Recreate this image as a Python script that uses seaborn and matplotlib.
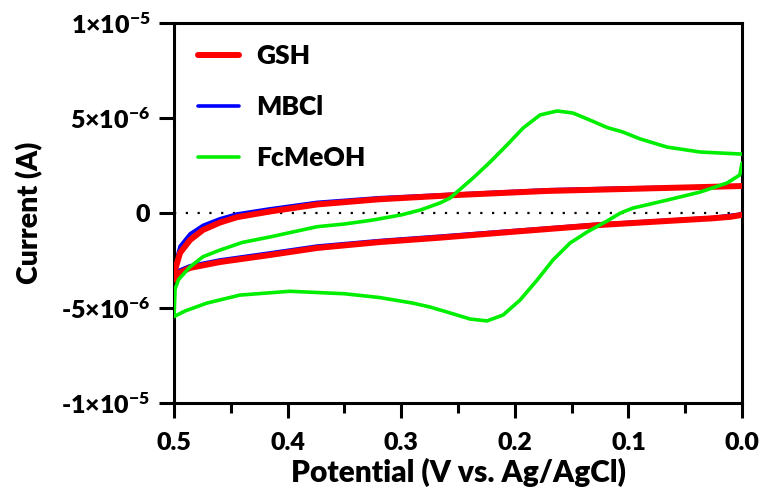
import numpy as np
import pandas as pd
import matplotlib
matplotlib.use('Agg')
import matplotlib.pyplot as plt
from matplotlib.ticker import MultipleLocator
import seaborn as sns

# potential (V) / current (uA), one list per branch
gsh_E_up = [0.5, 0.4991, 0.4947, 0.4859, 0.4745, 0.4595, 0.4445, 0.4155, 0.374, 0.32, 0.25, 0.172, 0.125, 0.0]
gsh_I_up = [-3.5, -3.0, -2.1, -1.42, -0.89, -0.5, -0.22, 0.08, 0.45, 0.72, 0.95, 1.16, 1.23, 1.42]
gsh_E_dn = [0.0, 0.01, 0.026, 0.066, 0.125, 0.2, 0.266, 0.319, 0.374, 0.4155, 0.4595, 0.486, 0.497, 0.5]
gsh_I_dn = [-0.1, -0.2, -0.28, -0.42, -0.63, -0.98, -1.3, -1.53, -1.84, -2.21, -2.58, -2.89, -3.2, -3.5]

mbcl_E_up = [0.5, 0.4991, 0.4947, 0.4859, 0.4745, 0.4595, 0.4445, 0.4155, 0.374, 0.32, 0.25, 0.172, 0.1, 0.0]
mbcl_I_up = [-3.3, -2.7, -1.75, -1.1, -0.65, -0.3, -0.05, 0.22, 0.56, 0.8, 1.0, 1.22, 1.32, 1.42]
mbcl_E_dn = [0.0, 0.026, 0.125, 0.266, 0.319, 0.374, 0.4155, 0.4595, 0.486, 0.497, 0.5]
mbcl_I_dn = [-0.05, -0.24, -0.58, -1.22, -1.45, -1.74, -2.1, -2.47, -2.78, -3.05, -3.3]

fc_E_dn = [0.0, 0.002, 0.0132, 0.037, 0.066, 0.096, 0.107, 0.1188, 0.1364, 0.1514, 0.1664, 0.1804,
           0.1954, 0.2104, 0.2245, 0.2394, 0.257, 0.2746, 0.29, 0.319, 0.35, 0.398, 0.442, 0.471, 0.49, 0.5]
fc_I_dn = [2.63, 2.0, 1.58, 1.1, 0.68, 0.26, 0.0, -0.42, -1.0, -1.58, -2.47, -3.53,
           -4.58, -5.37, -5.68, -5.58, -5.26, -4.95, -4.74, -4.45, -4.25, -4.12, -4.32, -4.74, -5.15, -5.45]
fc_E_up = [0.5, 0.4991, 0.496, 0.486, 0.4745, 0.4595, 0.44, 0.4155, 0.374, 0.35, 0.325, 0.3, 0.283,
           0.265, 0.257, 0.2368, 0.2218, 0.2069, 0.1928, 0.1778, 0.1628, 0.1488, 0.1338, 0.1188,
           0.1048, 0.0898, 0.066, 0.037, 0.0]
fc_I_up = [-5.45, -4.0, -3.5, -2.84, -2.3, -1.95, -1.55, -1.26, -0.72, -0.58, -0.37, -0.1, 0.16,
           0.55, 0.79, 1.84, 2.68, 3.58, 4.47, 5.16, 5.37, 5.26, 4.89, 4.5,
           4.26, 3.9, 3.47, 3.21, 3.1]

y_ticks = [-1e-5, -5e-6, 0, 5e-6, 1e-5]
y_labels = ['-1×10$^{-5}$', '-5×10$^{-6}$', '0', '5×10$^{-6}$', '1×10$^{-5}$']
x_ticks = [0.5, 0.4, 0.3, 0.2, 0.1, 0.0]
x_labels = ['0.5', '0.4', '0.3', '0.2', '0.1', '0.0']


def branches(E1, I1, E2, I2):
    return pd.DataFrame({'E': list(E1) + list(E2),
                         'I': np.array(list(I1) + list(I2)) * 1e-6,
                         'branch': ['a'] * len(E1) + ['b'] * len(E2)})


sns.set_style('white')
plt.rcParams['font.family'] = ['Lato', 'DejaVu Sans']
plt.rcParams['font.weight'] = 'heavy'
plt.rcParams['text.color'] = 'black'
plt.rcParams['axes.labelcolor'] = 'black'
plt.rcParams['xtick.color'] = 'black'
plt.rcParams['ytick.color'] = 'black'
plt.rcParams['mathtext.fontset'] = 'custom'
plt.rcParams['mathtext.rm'] = 'Lato:heavy'
plt.rcParams['mathtext.bf'] = 'Lato:heavy'
plt.rcParams['mathtext.default'] = 'bf'

fig = plt.figure(figsize=(7.65, 5.0), dpi=100)
ax = fig.add_axes([0.2275, 0.194, 0.7425, 0.76])

ax.axhline(0, color='black', lw=1.6, ls=(0, (1, 4.3)), zorder=1)

sns.lineplot(data=branches(mbcl_E_up, mbcl_I_up, mbcl_E_dn, mbcl_I_dn), x='E', y='I', units='branch',
             sort=False, estimator=None, color='#0000ff', lw=2.6, ax=ax, zorder=2)
sns.lineplot(data=branches(gsh_E_up, gsh_I_up, gsh_E_dn, gsh_I_dn), x='E', y='I', units='branch',
             sort=False, estimator=None, color='#ff0000', lw=4.3, ax=ax, zorder=3)
sns.lineplot(data=branches(fc_E_dn, fc_I_dn, fc_E_up, fc_I_up), x='E', y='I', units='branch',
             sort=False, estimator=None, color='#00ee00', lw=2.6, ax=ax, zorder=4)

ax.set_xlim(0.5, 0.0)
ax.set_ylim(-1e-5, 1e-5)
ax.set_xticks(x_ticks, x_labels)
ax.xaxis.set_minor_locator(MultipleLocator(0.05))
ax.set_yticks(y_ticks, y_labels)

for s in ax.spines.values():
    s.set_linewidth(2.2)
    s.set_color('black')
ax.tick_params(which='major', direction='out', length=11, width=2.2, labelsize=18, pad=6,
               bottom=True, left=True)
ax.tick_params(which='major', axis='x', pad=10)
ax.tick_params(which='minor', axis='x', direction='out', length=7, width=2.2, bottom=True)
for lab in ax.get_xticklabels() + ax.get_yticklabels():
    lab.set_fontweight('heavy')

ax.set_xlabel('Potential (V vs. Ag/AgCl)', fontsize=21.5, fontweight='heavy', labelpad=3)
ax.set_ylabel('Current (A)', fontsize=20.5, fontweight='heavy', labelpad=13)

handles = [plt.Line2D([], [], color='#ff0000', lw=4.3),
           plt.Line2D([], [], color='#0000ff', lw=2.6),
           plt.Line2D([], [], color='#00ee00', lw=2.6)]
ax.legend(handles, ['GSH', 'MBCl', 'FcMeOH'], loc='upper left', bbox_to_anchor=(0.0, 1.006),
          frameon=False, handlelength=1.55, handletextpad=0.65, labelspacing=1.02,
          prop={'weight': 'heavy', 'size': 19})

fig.savefig('out.png', dpi=100)
